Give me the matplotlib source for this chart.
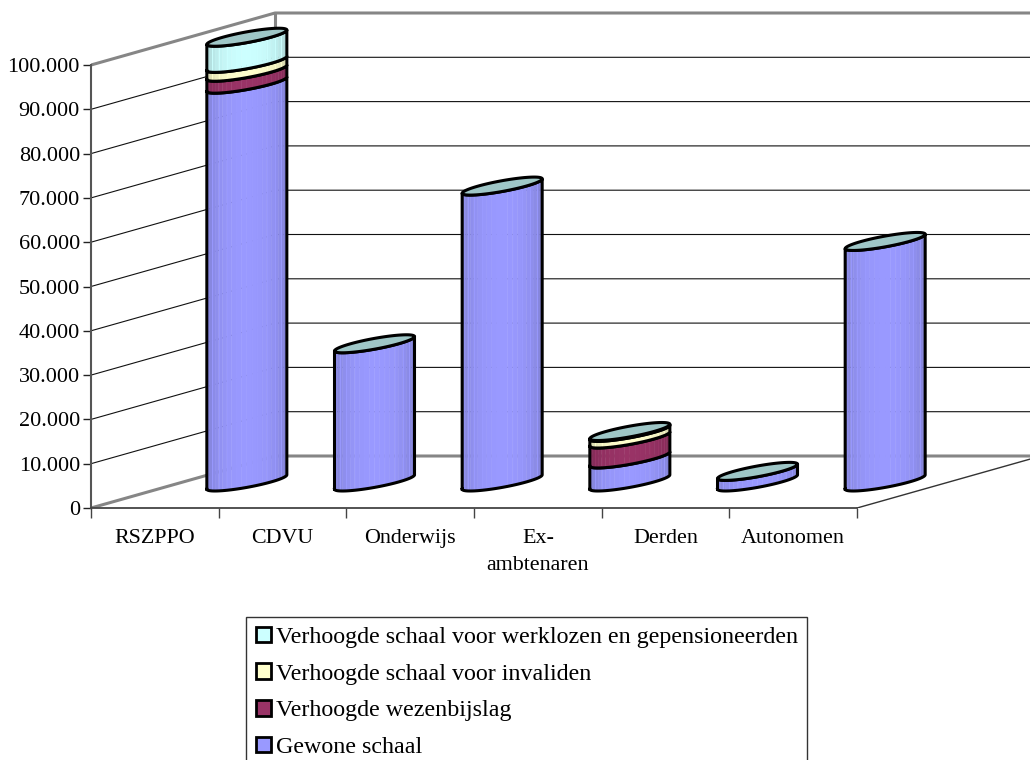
import numpy as np
import matplotlib
matplotlib.use('Agg')
import matplotlib.pyplot as plt
from matplotlib.patches import Patch, Polygon
from matplotlib.colors import to_rgb

plt.rcParams['font.family'] = ['Liberation Serif', 'DejaVu Serif']

categories = ['RSZPPO', 'CDVU', 'Onderwijs', 'Ex-\nambtenaren', 'Derden', 'Autonomen']
gewone = [89800, 31200, 66800, 5200, 2400, 54300]
wezen = [2700, 0, 0, 4500, 0, 0]
invaliden = [2000, 0, 0, 1500, 0, 0]
werklozen = [5900, 0, 0, 200, 0, 0]
y_ticks = [0, 10000, 20000, 30000, 40000, 50000, 60000, 70000, 80000, 90000, 100000]
y_labels = ['0', '10.000', '20.000', '30.000', '40.000', '50.000', '60.000', '70.000', '80.000', '90.000', '100.000']

names = ['Gewone schaal', 'Verhoogde wezenbijslag', 'Verhoogde schaal voor invaliden',
         'Verhoogde schaal voor werklozen en gepensioneerden']
series = [gewone, wezen, invaliden, werklozen]
colors = ['#9999FF', '#993366', '#FFFFCC', '#CCFFFF']

# pixel scale of the excel plot
W, H = 1030, 760
PX_CAT = 127.67
PX_VAL = 4.43 / 1000
DEPTH_X = 184 / PX_CAT
DEPTH_Y = 52 / PX_VAL
HALF_W = 40 / PX_CAT
TILT = 7.2 / PX_VAL
FLAT = 5.4 / PX_VAL

fig = plt.figure(figsize=(W / 100, H / 100), dpi=100)
ax = fig.add_axes([91 / W, (H - 508) / H, (W - 91) / W, 508 / H])
ax.set_xlim(0, (W - 91) / PX_CAT)
ax.set_ylim(0, 508 / PX_VAL)
ax.patch.set_visible(False)

for s in ['top', 'right']:
    ax.spines[s].set_visible(False)
ax.spines['left'].set_bounds(0, 100000)
ax.spines['bottom'].set_bounds(0, 6)
ax.spines['left'].set_color('#555555')
ax.spines['bottom'].set_color('#444444')
ax.spines['left'].set_linewidth(1.5)
ax.spines['bottom'].set_linewidth(1.3)

ax.set_yticks(y_ticks)
ax.set_yticklabels(y_labels, fontsize=16)
ax.tick_params(axis='y', length=6, width=1, color='#222222', pad=2)
ax.set_xticks(np.arange(7))
ax.set_xticklabels([])
ax.tick_params(axis='x', which='major', length=7, width=1, color='#444444')
ax.set_xticks(np.arange(6) + 0.5, minor=True)
ax.set_xticklabels(categories, minor=True, fontsize=15.8, linespacing=1.6)
ax.tick_params(axis='x', which='minor', length=0, pad=15)

wall = dict(color='#868686', lw=2.2, solid_capstyle='butt', zorder=1)
grid = dict(color='#111111', lw=0.8, zorder=1)
xr = ax.get_xlim()[1]
for v in y_ticks[1:-1]:
    ax.plot([0, DEPTH_X, xr], [v, v + DEPTH_Y, v + DEPTH_Y], **grid)
ax.plot([0, DEPTH_X, xr], [0, DEPTH_Y, DEPTH_Y], **wall)
ax.plot([0, DEPTH_X, xr], [100000, 100000 + DEPTH_Y, 100000 + DEPTH_Y], **wall)
ax.plot([DEPTH_X, DEPTH_X], [DEPTH_Y, 100000 + DEPTH_Y], **wall)
ax.plot([6, 6 + DEPTH_X], [0, DEPTH_Y], color='#333333', lw=1, zorder=1)


def ring(cx, cy, t):
    return cx + HALF_W * np.cos(t), cy + TILT * np.cos(t) + FLAT * np.sin(t)


def shade(base, f):
    return tuple(c * f for c in to_rgb(base))


def band(cx, y0, y1, color, z):
    edges = np.linspace(np.pi, 2 * np.pi, 25)
    for i in range(24):
        t = np.linspace(edges[i], edges[i + 1], 4)
        xa, ya = ring(cx, y0, t)
        xb, yb = ring(cx, y1, t[::-1])
        pos = (i + 0.5) / 24
        f = 0.77 + 0.23 * np.sin(np.pi * pos) ** 0.9
        ax.add_patch(Polygon(np.c_[np.r_[xa, xb], np.r_[ya, yb]], closed=True,
                             facecolor=shade(color, f), edgecolor=shade(color, f),
                             lw=0.3, zorder=z))
        if i % 2 == 1:
            # the pale facet seams of the excel cylinder
            ax.plot([xa[-1], xa[-1]], [ya[-1], yb[0]], color=shade(color, min(f * 1.15, 1.0)),
                    lw=0.7, alpha=0.9, zorder=z + 0.1)
    t = np.linspace(np.pi, 2 * np.pi, 60)
    xa, ya = ring(cx, y0, t)
    xb, yb = ring(cx, y1, t[::-1])
    ax.plot(np.r_[xa, xb, xa[0]], np.r_[ya, yb, ya[0]], color='black', lw=2.2,
            solid_joinstyle='round', zorder=z + 0.2)


for i in range(len(categories)):
    cx = i + 0.5 + DEPTH_X / 2
    bottom = DEPTH_Y / 2
    z = 3
    for vals, col in zip(series, colors):
        if vals[i] > 0:
            band(cx, bottom, bottom + vals[i], col, z)
            bottom += vals[i]
            z += 1
    t = np.linspace(0, 2 * np.pi, 120)
    xa, ya = ring(cx, bottom, t)
    ax.fill(xa, ya, facecolor=shade(colors[3], 0.78), edgecolor='black', lw=2.2, zorder=z + 1)

handles = [Patch(facecolor=c, edgecolor='black', lw=2) for c in colors[::-1]]
leg = fig.legend(handles, names[::-1], loc='upper left', bbox_to_anchor=(246 / W, 1 - 617 / H),
                 bbox_transform=fig.transFigure, borderaxespad=0, fontsize=17.25,
                 handlelength=0.64, handleheight=0.64, handletextpad=0.2, labelspacing=0.64,
                 borderpad=0.4, fancybox=False, framealpha=1, edgecolor='#333333')
leg.get_frame().set_linewidth(1)

fig.savefig('out.png', dpi=100)
